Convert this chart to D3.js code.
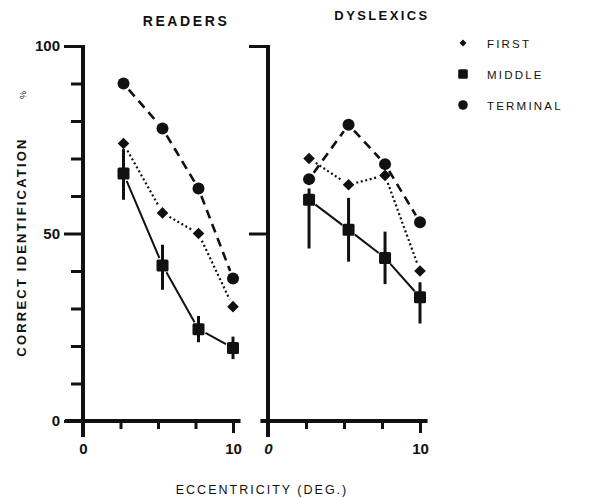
<!DOCTYPE html>
<html>
<head>
<meta charset="utf-8">
<script src="https://cdn.jsdelivr.net/npm/d3@7"></script>
<style>
  html, body { margin: 0; padding: 0; background: #fff; }
  svg { display: block; }
  text { font-family: "Liberation Sans", "DejaVu Sans", Arial, sans-serif; fill: #111; }
</style>
</head>
<body>
<svg id="chart" width="594" height="498"></svg>
<script>
// Eccentricity (deg) at which each letter position was tested
const eccentricity = [2.7, 5.3, 7.7, 10];

// Percent correct identification, readers
const readersFirst    = [74, 55.5, 50, 30.5];
const readersMiddle   = [66, 41.5, 24.5, 19.5];
const readersTerminal = [90, 78, 62, 38];
const readersMiddleErrHi = [6.5, 5.5, 3.5, 3];
const readersMiddleErrLo = [7, 6.5, 3.5, 3];

// Percent correct identification, dyslexics
const dyslexicsFirst    = [70, 63, 65.5, 40];
const dyslexicsMiddle   = [59, 51, 43.5, 33];
const dyslexicsTerminal = [64.5, 79, 68.5, 53];
const dyslexicsMiddleErrHi = [3, 8.5, 7, 4];
const dyslexicsMiddleErrLo = [13, 8.5, 7, 7];

const seriesNames = ["FIRST", "MIDDLE", "TERMINAL"];
const panelTitles = ["READERS", "DYSLEXICS"];
const xTicks = [0, 2.5, 5, 7.5, 10];
const xTickLabels = [0, 10];
const yMinorTicks = [10, 20, 30, 40, 60, 70, 80, 90];
const yMajorTicks = [0, 50, 100];

const svg = d3.select("#chart");
const ink = "#111";

const y = d3.scaleLinear().domain([0, 100]).range([421, 46]);
const xLeft = d3.scaleLinear().domain([0, 10]).range([83, 233]);
const xRight = d3.scaleLinear().domain([0, 10]).range([268, 420]);

// marker and line look per letter position
const styles = {
  FIRST:    { symbol: "diamond", dash: "2,2.6", width: 2.2 },
  MIDDLE:   { symbol: "square",  dash: null,    width: 2 },
  TERMINAL: { symbol: "circle",  dash: "9,6",   width: 2.6 }
};

function marker(g, kind, cx, cy, scale = 1) {
  if (kind === "circle") {
    g.append("circle").attr("cx", cx).attr("cy", cy).attr("r", 6 * scale).attr("fill", ink);
  } else if (kind === "square") {
    const s = 12 * scale;
    g.append("rect").attr("x", cx - s / 2).attr("y", cy - s / 2)
      .attr("width", s).attr("height", s).attr("rx", 1.5).attr("fill", ink);
  } else {
    const h = 5.8 * scale;
    g.append("path")
      .attr("d", `M${cx},${cy - h}L${cx + h},${cy}L${cx},${cy + h}L${cx - h},${cy}Z`)
      .attr("fill", ink);
  }
}

function drawPanel(x, data, opts) {
  const g = svg.append("g");

  // x axis: ticks every 2.5 deg, labels at 0 and 10; the end tick runs longer
  const xAxis = d3.axisBottom(x).tickValues(xTicks).tickSize(8).tickSizeOuter(0).tickPadding(14)
    .tickFormat(d => xTickLabels.includes(d) ? d3.format("d")(d) : "");
  const gx = g.append("g").attr("transform", `translate(0,${y(0)})`).call(xAxis);
  gx.select(".domain").remove();
  gx.selectAll(".tick line").attr("stroke", ink).attr("stroke-width", 3)
    .attr("y2", d => d === 10 ? 12 : 8);
  gx.selectAll(".tick text").attr("font-size", 15).attr("font-weight", "bold")
    .attr("dy", "0.71em").attr("fill", ink)
    .attr("font-style", d => (opts.italicZero && d === 0) ? "italic" : "normal");

  // y axis ticks
  if (opts.minorTicks) {
    const minor = d3.axisLeft(y).tickValues(yMinorTicks).tickSize(12).tickFormat("");
    const gm = g.append("g").attr("transform", `translate(${x(0)},0)`).call(minor);
    gm.select(".domain").remove();
    gm.selectAll(".tick line").attr("stroke", ink).attr("stroke-width", 3);
  }
  const major = d3.axisLeft(y).tickValues(opts.majorTicks).tickSize(19).tickPadding(4)
    .tickFormat(opts.yLabels ? d3.format("d") : "");
  const gM = g.append("g").attr("transform", `translate(${x(0)},0)`).call(major);
  gM.select(".domain").remove();
  gM.selectAll(".tick line").attr("stroke", ink).attr("stroke-width", 3);
  gM.selectAll(".tick text").attr("font-size", 15).attr("font-weight", "bold").attr("fill", ink);

  // axis lines
  g.append("line").attr("x1", x(0)).attr("x2", x(0))
    .attr("y1", y(0) + 16).attr("y2", y(100) - 1)
    .attr("stroke", ink).attr("stroke-width", 4);
  g.append("line").attr("x1", x(opts.xStart)).attr("x2", x(10.5))
    .attr("y1", y(0)).attr("y2", y(0))
    .attr("stroke", ink).attr("stroke-width", 4);

  // panel title
  g.append("text").attr("x", opts.titleX).attr("y", opts.titleY)
    .attr("text-anchor", "middle").attr("font-size", opts.titleSize).attr("font-weight", "bold")
    .attr("letter-spacing", opts.titleSpacing).text(opts.title);

  // error bars for middle position
  const mid = data.MIDDLE;
  g.selectAll("line.err").data(eccentricity).join("line").attr("class", "err")
    .attr("x1", d => x(d)).attr("x2", d => x(d))
    .attr("y1", (d, i) => y(mid.v[i] + mid.hi[i]))
    .attr("y2", (d, i) => y(mid.v[i] - mid.lo[i]))
    .attr("stroke", ink).attr("stroke-width", 3);

  // connecting lines, trimmed short of each marker
  const gap = 8;
  seriesNames.forEach(name => {
    const st = styles[name];
    const vals = data[name].v;
    for (let i = 0; i < vals.length - 1; i++) {
      const x1 = x(eccentricity[i]), y1 = y(vals[i]);
      const x2 = x(eccentricity[i + 1]), y2 = y(vals[i + 1]);
      const len = Math.hypot(x2 - x1, y2 - y1);
      const ux = (x2 - x1) / len, uy = (y2 - y1) / len;
      g.append("line")
        .attr("x1", x1 + ux * gap).attr("y1", y1 + uy * gap)
        .attr("x2", x2 - ux * gap).attr("y2", y2 - uy * gap)
        .attr("stroke", ink).attr("stroke-width", st.width)
        .attr("stroke-dasharray", st.dash);
    }
  });

  // markers
  seriesNames.forEach(name => {
    data[name].v.forEach((v, i) => marker(g, styles[name].symbol, x(eccentricity[i]), y(v)));
  });
}

drawPanel(xLeft, {
  FIRST: { v: readersFirst },
  MIDDLE: { v: readersMiddle, hi: readersMiddleErrHi, lo: readersMiddleErrLo },
  TERMINAL: { v: readersTerminal }
}, {
  title: panelTitles[0], titleX: 186, titleY: 26, titleSize: 14, titleSpacing: 2.6,
  minorTicks: true, majorTicks: yMajorTicks, yLabels: true, xStart: -1.2, italicZero: false
});

drawPanel(xRight, {
  FIRST: { v: dyslexicsFirst },
  MIDDLE: { v: dyslexicsMiddle, hi: dyslexicsMiddleErrHi, lo: dyslexicsMiddleErrLo },
  TERMINAL: { v: dyslexicsTerminal }
}, {
  title: panelTitles[1], titleX: 382, titleY: 20, titleSize: 13, titleSpacing: 2.4,
  minorTicks: false, majorTicks: [50, 100], yLabels: false, xStart: -0.5, italicZero: true
});

// legend
const legendRows = [43, 74, 105];
const legendColors = ["#666", "#333", "#222"];
const legend = svg.append("g");
seriesNames.forEach((name, i) => {
  marker(legend, styles[name].symbol, 463, legendRows[i], i === 0 ? 0.6 : 0.8);
  legend.append("text").attr("x", 487).attr("y", legendRows[i] + 4.5)
    .attr("font-size", 11.5).attr("letter-spacing", 2.2)
    .attr("fill", legendColors[i]).text(name);
});

// axis titles
svg.append("text")
  .attr("transform", `translate(26,247) rotate(-90)`)
  .attr("text-anchor", "middle").attr("font-size", 13).attr("font-weight", "bold")
  .attr("letter-spacing", 2.2).text("CORRECT IDENTIFICATION");
svg.append("text")
  .attr("transform", `translate(26,95) rotate(-90)`)
  .attr("text-anchor", "middle").attr("font-size", 9).attr("fill", "#555").text("%");
svg.append("text")
  .attr("x", 262).attr("y", 494).attr("text-anchor", "middle")
  .attr("font-size", 12.5).attr("letter-spacing", 2)
  .text("ECCENTRICITY (DEG.)");
</script>
</body>
</html>
